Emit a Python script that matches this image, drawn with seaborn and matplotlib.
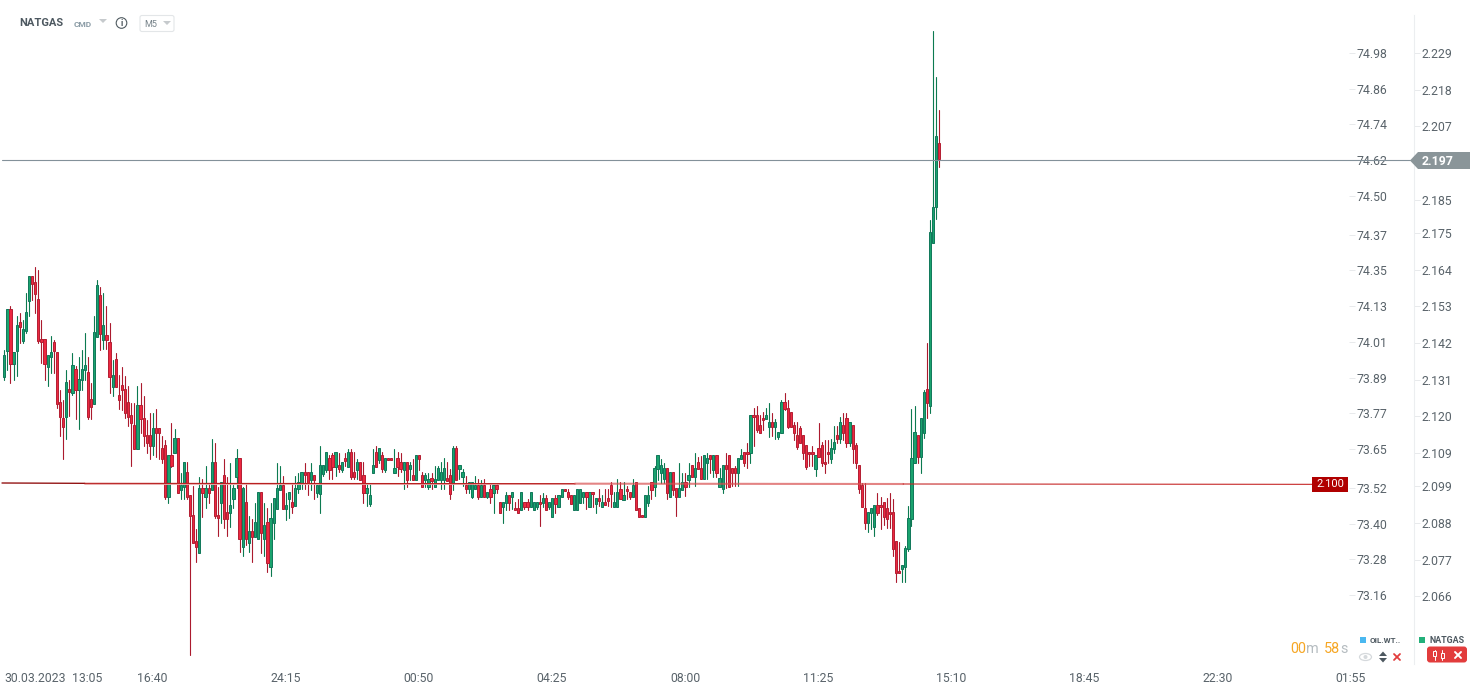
import numpy as np
import pandas as pd
import matplotlib
matplotlib.use("Agg")
import matplotlib.pyplot as plt
from matplotlib.patches import Polygon, FancyBboxPatch, Rectangle, Circle, Ellipse
import seaborn as sns

# --- NATGAS M5 candles, prices in thousandths of a dollar ---
direction = (
    "GGRGGRGGGR" "RRRRGGRRRR" "GRGRGGGRRG" "GRGRRGRRRR" "RRRGRRRRGR" "RRRGRGRGGR" "RRRGRGRGRR" "GRRGGGRGRG" "RGGRGRGGGG" "RGGRGG"
    "GRRGRGGGGR" "RGRGRGRRGR" "RGGGRGRGRR" "GRRGRGRGRR" "GGRGGGGRRG" "RGGRGGGRGR" "GRGRRGGRGR" "RGRRGGGRGR" "GGRGGRRRGG" "GGRGRGRGRR" "RGGRGRRGRR" "RGG"
    "RGGGGRGRRG" "GRGRGRRGGR" "GRGGRRRRGG" "RRGRRRRGGR" "GGGRRRRRRR" "RRRGRRRRGG" "RGRRGRRRRR" "GGGRRRRRRR" "RGGGGGRGGR" "GGGR"
)
body_top = [
    2138.3,2152.1,2152.1,2139.2,2147.3,2148.2,2146.1,2151.2,2162.0,2162.0,
    2160.2,2155.1,2143.1,2143.1,2138.3,2139.2,2142.2,2139.2,2124.2,2119.4,
    2130.2,2128.1,2135.3,2134.1,2131.1,2134.1,2135.3,2133.2,2125.1,2145.2,
    2159.3,2156.3,2147.3,2144.3,2142.2,2132.3,2137.1,2126.3,2129.3,2128.1,
    2124.2,2120.3,2117.3,2123.3,2123.3,2119.4,2114.3,2114.3,2116.4,2116.4,
    2116.4,2110.4,2111.3,2108.3,2108.3,2113.4,2113.4,2099.3,2106.2,2103.2,
    2096.3,2090.3,2082.5,2098.4,2098.4,2098.4,2098.4,2106.2,2106.2,2090.3,
    2100.2,2102.3,2091.2,2093.3,2098.4,2107.4,2107.4,2098.4,2094.2,2085.5,
    2085.5,2088.2,2097.2,2097.2,2087.3,2088.2,2089.4,2095.4,2098.4,2099.3,
    2099.3,2093.3,2097.2,2094.2,2098.4,2100.2,
    2103.2,2103.2,2103.2,2103.2,2102.4,2099.4,2105.3,2105.3,2109.2,2107.4,
    2108.3,2109.2,2105.3,2106.2,2107.4,2109.2,2109.2,2103.2,2106.2,2106.2,
    2102.3,2098.4,2096.3,2105.3,2109.2,2110.4,2108.3,2107.4,2107.4,2107.4,
    2104.4,2107.4,2106.2,2106.2,2106.2,2105.3,2102.3,2108.3,2108.3,2102.3,
    2102.3,2101.3,2101.4,2101.3,2104.4,2103.2,2104.4,2101.4,2102.3,2110.4,
    2110.4,2105.3,2103.2,2099.3,2100.2,2100.2,2099.3,2099.3,2099.3,2099.3,
    2097.2,2098.3,2099.3,2099.3,2094.2,2094.2,2096.3,2096.3,2097.2,2092.4,
    2092.4,2097.2,2094.2,2094.2,2097.2,2094.2,2094.2,2094.2,2095.4,2095.4,
    2094.2,2095.4,2095.4,2096.3,2098.3,2098.3,2097.2,2096.3,2096.3,2098.3,
    2098.3,2097.2,2097.2,2097.2,2097.2,2095.4,2095.4,2094.2,2094.2,2095.4,
    2099.3,2094.2,2097.2,2098.3,2096.3,2098.3,2097.2,2099.3,2100.2,2092.4,
    2090.3,2096.3,2096.3,
    2100.2,2104.4,2108.3,2105.3,2104.4,2104.4,2103.2,2103.2,2098.4,2098.4,
    2100.2,2100.2,2102.3,2105.3,2104.4,2106.2,2104.4,2108.3,2107.4,2108.3,
    2108.3,2108.3,2101.4,2105.3,2105.3,2108.3,2104.4,2104.4,2107.4,2108.3,
    2109.2,2109.2,2120.3,2120.3,2120.3,2117.3,2119.4,2120.3,2118.2,2118.2,
    2118.2,2115.2,2124.2,2124.2,2122.4,2121.2,2117.3,2114.3,2116.4,2114.3,
    2111.3,2109.2,2109.2,2108.3,2110.4,2111.3,2106.2,2109.2,2110.4,2112.2,
    2114.3,2118.2,2117.3,2119.4,2118.2,2117.3,2111.3,2105.3,2099.3,2092.4,
    2091.2,2092.4,2093.3,2093.3,2093.3,2094.2,2092.4,2091.2,2091.2,2082.5,
    2073.5,2075.3,2080.4,2089.4,2107.4,2115.2,2114.3,2119.4,2127.2,2128.1,
    2175.2,2182.9,2204.1,2201.9,
]
body_bottom = [
    2131.9,2139.7,2135.8,2135.8,2139.7,2146.9,2142.7,2145.7,2154.7,2159.8,
    2156.8,2142.7,2142.4,2135.8,2134.9,2137.9,2139.7,2123.8,2119.9,2116.9,
    2119.9,2127.4,2126.9,2127.8,2127.8,2130.8,2133.8,2119.9,2122.9,2123.8,
    2143.9,2144.8,2142.8,2142.8,2131.9,2128.9,2128.9,2124.8,2127.8,2120.9,
    2119.9,2117.9,2110.1,2110.1,2119.1,2114.0,2111.9,2111.0,2111.0,2114.9,
    2114.9,2107.1,2095.9,2095.9,2105.0,2108.9,2096.9,2098.0,2098.9,2095.9,
    2090.0,2082.1,2080.9,2079.1,2096.9,2095.9,2096.9,2098.0,2090.0,2089.6,
    2093.9,2089.1,2089.1,2090.9,2095.1,2101.9,2083.1,2080.9,2083.1,2082.1,
    2083.9,2083.9,2083.1,2085.1,2083.1,2076.1,2074.9,2087.9,2092.1,2097.9,
    2092.1,2092.1,2095.1,2092.9,2093.0,2098.1,
    2099.9,2102.4,2099.9,2100.9,2100.9,2096.9,2096.8,2102.7,2103.9,2103.9,
    2104.9,2104.9,2104.1,2103.9,2106.7,2104.9,2101.9,2101.9,2103.9,2101.0,
    2096.9,2096.9,2093.8,2102.9,2104.9,2106.9,2104.1,2103.9,2106.8,2106.8,
    2102.9,2104.9,2104.1,2103.9,2101.0,2104.1,2101.0,2101.0,2107.1,2098.9,
    2100.9,2098.9,2100.7,2098.9,2100.9,2100.9,2100.9,2100.7,2096.8,2099.9,
    2101.0,2104.1,2101.9,2098.1,2098.1,2095.9,2098.1,2095.9,2095.9,2095.9,
    2095.9,2095.9,2096.9,2098.1,2090.9,2092.9,2093.9,2093.9,2095.9,2091.8,
    2090.9,2091.9,2092.9,2092.9,2092.9,2092.0,2092.9,2093.6,2093.9,2092.0,
    2092.9,2089.9,2093.8,2092.9,2095.9,2097.7,2095.9,2093.8,2092.0,2092.0,
    2093.9,2095.9,2095.9,2092.9,2096.6,2093.8,2094.7,2092.9,2093.5,2094.7,
    2096.8,2092.9,2092.9,2095.1,2095.0,2097.7,2095.9,2095.9,2092.0,2089.9,
    2089.7,2089.9,2093.9,
    2098.0,2098.9,2104.1,2102.9,2101.1,2096.9,2095.9,2097.9,2095.9,2095.9,
    2097.9,2098.9,2100.9,2101.9,2101.9,2104.1,2101.1,2101.1,2105.9,2107.1,
    2103.9,2102.9,2098.9,2098.1,2104.1,2098.9,2102.9,2102.9,2102.9,2107.1,
    2105.9,2108.6,2108.9,2119.7,2115.9,2114.9,2118.8,2119.1,2116.9,2116.9,
    2116.9,2113.9,2114.9,2122.1,2116.9,2116.9,2114.9,2110.9,2111.9,2108.9,
    2104.9,2108.6,2108.6,2104.1,2107.9,2105.9,2105.6,2108.6,2107.1,2110.1,
    2113.1,2113.1,2114.9,2111.9,2111.9,2110.1,2105.9,2098.1,2092.9,2087.9,
    2087.9,2090.9,2086.9,2090.9,2092.7,2089.9,2089.1,2090.6,2080.1,2073.1,
    2072.9,2074.1,2074.9,2080.1,2089.1,2105.9,2107.9,2107.9,2114.9,2123.9,
    2123.1,2171.9,2182.7,2197.1,
]
high = [
    2139.9,2152.1,2153.1,2139.2,2150.1,2151.1,2148.9,2157.1,2162.0,2162.0,
    2164.7,2163.9,2148.9,2143.1,2138.3,2144.1,2142.9,2139.2,2127.9,2124.9,
    2133.9,2130.9,2138.9,2135.1,2137.9,2139.9,2144.9,2137.9,2129.9,2150.1,
    2160.9,2158.9,2156.9,2153.1,2147.9,2136.9,2138.9,2132.3,2134.9,2132.1,
    2129.1,2123.9,2123.9,2129.1,2129.9,2126.1,2118.9,2120.9,2120.9,2122.2,
    2116.4,2114.1,2112.9,2108.3,2117.9,2116.1,2113.4,2102.9,2106.2,2106.2,
    2096.3,2099.1,2086.1,2101.9,2101.1,2105.1,2099.9,2113.1,2111.9,2098.9,
    2100.2,2107.1,2101.9,2105.9,2099.4,2110.1,2107.4,2098.9,2099.9,2090.1,
    2089.1,2093.9,2097.2,2097.2,2093.9,2092.4,2093.9,2095.4,2105.9,2105.1,
    2102.1,2096.9,2097.2,2099.9,2102.1,2102.9,
    2103.2,2105.9,2103.2,2105.9,2102.4,2099.4,2111.1,2105.3,2109.2,2108.4,
    2108.9,2109.2,2109.1,2106.2,2108.9,2110.2,2110.2,2109.2,2107.2,2106.2,
    2106.2,2099.9,2099.9,2110.2,2111.1,2110.4,2109.2,2107.4,2107.4,2107.4,
    2110.2,2109.2,2108.9,2106.2,2106.2,2106.2,2107.2,2108.3,2108.3,2103.2,
    2102.9,2102.9,2102.9,2105.2,2105.2,2106.2,2107.4,2106.2,2104.1,2111.1,
    2111.1,2105.3,2104.1,2102.1,2100.2,2100.2,2102.1,2101.1,2100.9,2101.1,
    2097.2,2099.9,2099.3,2100.1,2094.2,2094.2,2097.2,2096.3,2097.2,2094.2,
    2095.1,2097.2,2094.2,2095.1,2097.2,2094.2,2094.2,2096.4,2096.9,2096.3,
    2094.2,2095.4,2096.3,2096.3,2098.3,2098.3,2098.3,2096.3,2096.3,2098.3,
    2098.3,2097.2,2097.2,2097.2,2097.2,2095.4,2098.1,2096.3,2098.1,2098.1,
    2100.2,2097.2,2101.1,2100.2,2100.2,2099.1,2097.2,2101.1,2100.2,2092.4,
    2090.3,2096.3,2099.1,
    2100.2,2105.1,2108.3,2107.2,2105.9,2104.4,2103.2,2103.2,2098.4,2105.9,
    2102.9,2102.9,2105.9,2105.3,2108.9,2107.9,2108.1,2108.3,2108.9,2108.3,
    2108.3,2108.3,2104.4,2105.3,2108.9,2108.3,2104.4,2105.1,2107.4,2110.1,
    2109.2,2111.9,2120.3,2122.4,2123.1,2120.3,2121.2,2122.4,2123.9,2121.1,
    2119.1,2115.2,2124.9,2126.9,2124.9,2121.2,2118.2,2118.2,2117.1,2114.3,
    2111.3,2109.2,2111.2,2108.3,2117.9,2112.2,2112.9,2112.9,2113.1,2117.1,
    2117.1,2119.9,2120.9,2120.9,2118.2,2117.3,2111.9,2105.3,2100.1,2099.9,
    2091.2,2092.4,2093.3,2096.9,2095.9,2094.2,2095.4,2096.9,2095.1,2082.5,
    2082.2,2075.3,2081.2,2093.1,2122.1,2123.1,2114.3,2119.4,2127.9,2142.1,
    2178.9,2235.6,2221.7,2211.9,
]
low = [
    2130.9,2133.9,2130.0,2130.9,2132.1,2141.9,2141.9,2145.1,2150.2,2154.9,
    2151.1,2142.1,2136.1,2130.9,2129.1,2132.9,2133.1,2122.4,2114.1,2107.2,
    2113.2,2120.1,2126.4,2119.2,2116.2,2127.9,2130.8,2119.2,2119.2,2123.8,
    2143.9,2139.9,2140.1,2140.1,2127.1,2126.1,2128.9,2122.2,2121.9,2119.4,
    2117.2,2105.2,2110.1,2110.1,2114.9,2111.2,2109.1,2107.2,2108.4,2107.9,
    2107.2,2105.9,2095.3,2094.1,2104.9,2108.9,2096.9,2095.3,2095.3,2095.3,
    2048.4,2082.1,2076.4,2079.1,2089.9,2092.4,2093.9,2098.0,2089.4,2084.2,
    2087.9,2086.4,2084.2,2086.9,2092.4,2098.4,2079.4,2078.2,2081.4,2079.4,
    2076.4,2083.9,2083.1,2078.9,2078.2,2073.4,2072.2,2083.2,2092.1,2097.9,
    2092.1,2088.9,2089.4,2091.1,2093.0,2097.1,
    2098.2,2098.2,2096.4,2097.9,2095.2,2095.9,2091.1,2102.2,2103.2,2101.2,
    2101.2,2102.2,2103.2,2103.2,2105.2,2104.9,2101.2,2101.2,2101.2,2101.0,
    2094.1,2093.2,2093.2,2102.9,2104.9,2105.9,2103.2,2103.2,2106.8,2106.8,
    2102.9,2102.2,2103.2,2098.2,2098.9,2100.9,2101.0,2101.0,2103.9,2098.9,
    2098.9,2098.2,2098.2,2098.9,2100.9,2098.2,2098.2,2100.7,2095.3,2097.9,
    2101.0,2101.2,2099.2,2097.1,2097.1,2095.4,2098.1,2095.3,2095.9,2095.9,
    2095.4,2094.1,2091.1,2096.9,2090.9,2088.1,2091.9,2091.9,2092.2,2091.8,
    2090.9,2091.9,2092.1,2091.9,2092.9,2092.0,2092.1,2087.2,2092.9,2092.0,
    2092.2,2089.9,2090.9,2092.9,2095.9,2097.7,2095.3,2093.8,2092.0,2092.0,
    2093.9,2093.9,2092.3,2092.9,2092.9,2091.1,2093.1,2092.9,2093.5,2093.1,
    2092.9,2092.9,2092.9,2095.1,2095.0,2095.1,2095.3,2095.9,2092.0,2089.9,
    2089.7,2089.9,2093.1,
    2095.2,2096.1,2100.9,2099.9,2099.9,2095.3,2095.9,2096.4,2090.2,2095.9,
    2097.9,2096.1,2098.9,2101.9,2099.1,2104.1,2101.1,2101.1,2101.1,2103.1,
    2101.9,2101.9,2098.9,2097.1,2098.4,2098.9,2099.2,2099.2,2099.2,2107.1,
    2105.1,2104.4,2106.1,2111.2,2115.2,2114.9,2115.9,2119.1,2113.9,2114.2,
    2113.2,2113.2,2114.9,2121.9,2116.4,2116.9,2112.9,2110.2,2111.9,2107.1,
    2104.3,2105.1,2105.1,2102.2,2107.7,2105.1,2102.9,2105.9,2106.1,2109.1,
    2112.1,2112.1,2112.9,2110.9,2111.2,2106.1,2104.4,2097.1,2092.9,2086.2,
    2085.4,2086.2,2084.2,2090.4,2086.2,2087.4,2086.4,2086.4,2078.2,2070.4,
    2072.9,2070.4,2070.4,2079.7,2087.2,2105.9,2105.9,2103.1,2113.4,2119.4,
    2121.1,2171.9,2179.1,2194.9,
]

# --- axis tick values ---
price_ticks = [2.229, 2.218, 2.207, 2.185, 2.175, 2.164, 2.153, 2.142, 2.131,
               2.120, 2.109, 2.099, 2.088, 2.077, 2.066]
oil_ticks = [74.98, 74.86, 74.74, 74.62, 74.50, 74.37, 74.25, 74.13, 74.01,
             73.89, 73.77, 73.65, 73.52, 73.40, 73.28, 73.16]
oil_labels = ["74.98", "74.86", "74.74", "74.62", "74.50", "74.37", "74.35", "74.13", "74.01",
              "73.89", "73.77", "73.65", "73.52", "73.40", "73.28", "73.16"]
time_ticks = [0, 22, 43, 86, 129, 172, 215, 258, 301, 344, 387, 430]
time_labels = ["30.03.2023", "13:05", "16:40", "24:15", "00:50", "04:25",
               "08:00", "11:25", "15:10", "18:45", "22:30", "01:55"]
last_price = 2.197
alert_price = 2.100

FONT = ["Roboto", "DejaVu Sans"]
sns.set_theme(style="white", rc={"axes.facecolor": "white", "figure.facecolor": "white"})
plt.rcParams["font.family"] = FONT

W, H = 1482, 694
fig = plt.figure(figsize=(W / 100, H / 100), dpi=100)
PX = 72 / 100  # points per pixel
TOP, BOT = 15, 664


def axes_rect(x0, x1):
    return [x0 / W, 1 - BOT / H, (x1 - x0) / W, (BOT - TOP) / H]


# --- oil scale (second axis, behind) ---
ax_oil = fig.add_axes(axes_rect(0, 1349))
ax_oil.patch.set_visible(False)
ax_oil.set_xticks([])
ax_oil.set_ylim(72.9283, 75.1076)
ax_oil.yaxis.tick_right()
ax_oil.set_yticks(oil_ticks)
ax_oil.set_yticklabels(oil_labels)
ax_oil.tick_params(axis="y", length=6 * PX, width=0.7, color="#e8eaec", pad=1.5 * PX,
                   labelsize=8.8, labelcolor="#59636a")
for s in ax_oil.spines.values():
    s.set_visible(False)

# --- main chart ---
ax = fig.add_axes(axes_rect(0, 1414))
ax.patch.set_visible(False)

n = len(direction)
idx = np.arange(n)
hi = np.array(high) / 1000
lo = np.array(low) / 1000
top = np.array(body_top) / 1000
bottom = np.array(body_bottom) / 1000
is_up = np.array([c == "G" for c in direction])

wicks = pd.DataFrame({
    "idx": np.concatenate([idx, idx]),
    "price": np.concatenate([lo, hi]),
    "side": np.where(np.concatenate([is_up, is_up]), "up", "down"),
})
sns.lineplot(data=wicks, x="idx", y="price", hue="side", units="idx", estimator=None,
             palette={"up": "#0c7a50", "down": "#ab1a2e"}, linewidth=0.8,
             legend=False, sort=False, ax=ax, zorder=2)

for mask, fill, edge in [(is_up, "#1aa36e", "#10785a"), (~is_up, "#ec2840", "#b41e32")]:
    ax.bar(idx[mask], (top - bottom)[mask], bottom=bottom[mask], width=0.72,
           color=fill, edgecolor=edge, linewidth=0.7, zorder=3)

ax.set_xlim(-1.389, 455.3)
ax.set_ylim(2.0457, 2.2404)
ax.set_xlabel("")
ax.set_ylabel("")
ax.yaxis.tick_right()
ax.set_yticks(price_ticks)
ax.set_yticklabels([f"{v:.3f}" for v in price_ticks])
ax.tick_params(axis="y", length=6 * PX, width=0.7, color="#e8eaec", pad=1.5 * PX,
               labelsize=8.8, labelcolor="#59636a")
ax.set_xticks(time_ticks)
ax.set_xticklabels(time_labels, ha="left")
ax.tick_params(axis="x", length=5 * PX, width=0.7, color="#e8eaec", pad=3 * PX,
               labelsize=8.8, labelcolor="#59636a")
for name, s in ax.spines.items():
    s.set_visible(name == "right")
ax.spines["right"].set_color("#eceef0")
ax.spines["right"].set_linewidth(0.8)

# last price line and alert line
ax.plot([-0.75, 454], [last_price, last_price], color="#83919a", lw=0.8, zorder=5)
ax.plot([-0.75, 26], [alert_price, alert_price - 0.0001], color="#8f0a0a", lw=0.95, zorder=5)
ax.plot([26, 184.3], [alert_price - 0.0003, alert_price - 0.0003], color="#e8a8a8", lw=1.3, zorder=4)
ax.plot([26, 184.3], [alert_price - 0.0001, alert_price - 0.0002], color="#b82020", lw=0.8, zorder=5)
ax.plot([184.3, 290.3], [alert_price - 0.0002, alert_price - 0.0003], color="#d85050", lw=1.5, alpha=0.7, zorder=5)
ax.plot([290.3, 422.4], [alert_price - 0.0003, alert_price - 0.0004], color="#c62828", lw=0.8, zorder=5)

# --- overlay in pixel coordinates for the platform chrome ---
ov = fig.add_axes([0, 0, 1, 1], zorder=10)
ov.set_xlim(0, W)
ov.set_ylim(H, 0)
ov.axis("off")
ov.patch.set_visible(False)


def txt(x, y, s, size, color, weight="normal", ha="left"):
    ov.text(x, y, s, fontsize=size, color=color, fontweight=weight, ha=ha, va="center", family=FONT)


# header
txt(19.5, 23, "NATGAS", 8.0, "#4d5860", "bold")
txt(74, 24, "CMD", 6.0, "#8a9ba5", "bold")
ov.add_patch(Polygon([(99, 19), (107, 19), (103, 23)], color="#c6cacd", lw=0))
ov.add_patch(Circle((121.5, 23), 5.3, fill=False, ec="#4f5a60", lw=0.8))
txt(121.5, 23, "i", 6.5, "#4f5a60", "bold", ha="center")
ov.add_patch(FancyBboxPatch((140, 15.5), 34, 16, boxstyle="round,pad=0,rounding_size=2",
                            fc="white", ec="#e3e6e8", lw=0.8))
txt(144, 24, "M5", 6.5, "#77838a")
ov.add_patch(Polygon([(163, 21), (171, 21), (167, 25)], color="#c6cacd", lw=0))

# last price tag
ov.add_patch(Polygon([(1410, 160.5), (1418, 152), (1470, 152), (1470, 169), (1418, 169)],
                     color="#8a9599", lw=0))
txt(1422, 161, f"{last_price:.3f}", 8.9, "white", "bold")

# alert tag
ov.add_patch(Rectangle((1312, 477), 36, 15, color="#b00000", lw=0))
txt(1330, 484, f"{alert_price:.3f}", 8.0, "white", ha="center")

# countdown
txt(1290, 649, "00", 10.4, "#f6a623")
txt(1306, 649, "m", 10.4, "#b5bcc0")
txt(1324, 649, "58", 10.4, "#f6a623")
txt(1340, 649, "s", 10.4, "#b5bcc0")

# instruments
ov.add_patch(Rectangle((1360, 637), 6, 6, color="#4ab8f0", lw=0))
txt(1369.5, 640.5, "OIL.WT..", 5.8, "#4d5860", "bold")
ov.add_patch(Rectangle((1419, 637), 6, 6, color="#23b07a", lw=0))
txt(1429, 640.5, "NATGAS", 6.4, "#4d5860", "bold")

# eye, order arrows, remove
ov.add_patch(Ellipse((1365.5, 657), 12, 7, fill=False, ec="#d5d9dc", lw=0.9))
ov.add_patch(Circle((1365.5, 657), 2, color="#d5d9dc", lw=0))
ov.add_patch(Polygon([(1379, 656), (1387, 656), (1383, 651.5)], color="#4d5860", lw=0))
ov.add_patch(Polygon([(1379, 658), (1387, 658), (1383, 662.5)], color="#4d5860", lw=0))
ov.plot([1394, 1400], [654, 660], color="#e23c3c", lw=1.3)
ov.plot([1394, 1400], [660, 654], color="#e23c3c", lw=1.3)

# red button
ov.add_patch(FancyBboxPatch((1427, 646.5), 40, 16, boxstyle="round,pad=0,rounding_size=3",
                            fc="#e23c3c", ec="none"))
for x0, y0 in ((1434.5, 651), (1442, 653)):
    ov.plot([x0, x0], [649.5, 660], color="white", lw=0.7, zorder=3)
    ov.add_patch(Rectangle((x0 - 1.5, y0), 3, 5, fc="#e23c3c", ec="white", lw=0.7, zorder=4))
ov.plot([1455, 1461], [652, 658], color="white", lw=1.4)
ov.plot([1455, 1461], [658, 652], color="white", lw=1.4)

fig.savefig("out.png", dpi=100)
